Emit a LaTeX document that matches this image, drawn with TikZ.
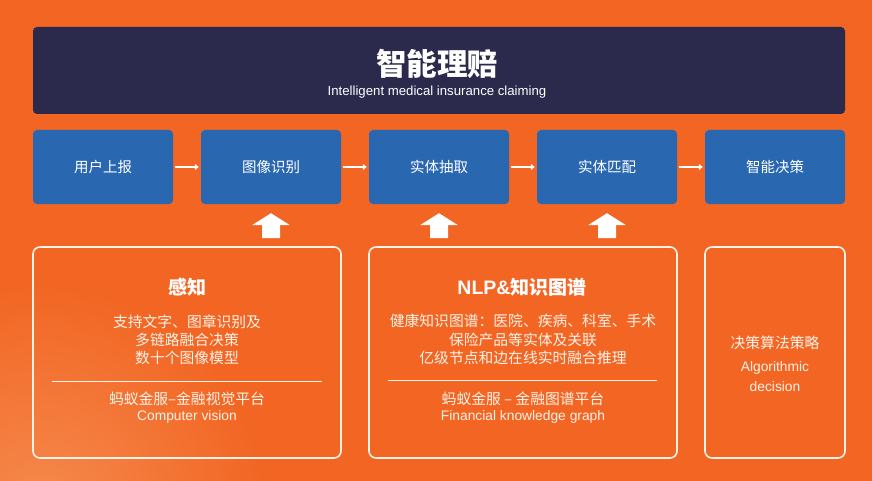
\documentclass[tikz,border=0pt]{standalone}
\usepackage{fontspec}
\setmainfont{Noto Sans CJK SC}
\newfontfamily\latinfont{Liberation Sans}
\usetikzlibrary{arrows.meta,calc}
\definecolor{bgor}{HTML}{F26522}
\definecolor{bglt}{HTML}{F58A4E}
\definecolor{navy}{HTML}{2B2A4D}
\definecolor{bluebox}{HTML}{2A67B1}
\definecolor{cream}{HTML}{FFF2E8}
\tikzset{
  stepbox/.style={fill=bluebox, rounded corners=4pt, minimum width=140pt, minimum height=74pt, inner sep=0pt, text=white, font=\fontsize{14.5}{16}\selectfont},
  panel/.style={draw=cream, line width=1.6pt, rounded corners=7pt, inner sep=0pt},
  body/.style={text=cream, font=\fontsize{14.8}{16}\selectfont, inner sep=0pt},
  latin/.style={text=cream, font=\latinfont\fontsize{13.8}{15}\selectfont, inner sep=0pt},
  head/.style={text=white, font=\fontsize{19}{21}\selectfont\bfseries, inner sep=0pt},
  flow/.style={draw=white, line width=1.8pt, -{Triangle[length=4pt,width=6pt]}},
}
\newcommand{\uparr}[1]{\fill[white] ([yshift=-9pt]#1.south) -- ++(19,12) -- ++(-10,0) -- ++(0,13) -- ++(-18,0) -- ++(0,-13) -- ++(-10,0) -- cycle;}
\begin{document}
\begin{tikzpicture}[x=1pt,y=-1pt]
\useasboundingbox (0,0) rectangle (872,481);
\fill[bgor] (0,0) rectangle (872,481);
\begin{scope}
\clip (0,0) rectangle (872,481);
\shade[inner color=bglt, outer color=bgor] (40,510) circle (230);
\end{scope}
% top banner
\node[fill=navy, rounded corners=4pt, minimum width=812pt, minimum height=87pt, inner sep=0pt] (top) at (439,70.5) {};
\node[text=white, font=\fontsize{30.5}{32}\selectfont\bfseries, inner sep=0pt] (title) at (437,64) {智能理赔};
\node[text=white, font=\latinfont\fontsize{13.2}{14}\selectfont, inner sep=0pt] (sub) at (437,92) {Intelligent medical insurance claiming};
% step boxes
\node[stepbox] (b1) at (103,167) {用户上报};
\node[stepbox] (b2) at (271,167) {图像识别};
\node[stepbox] (b3) at (439,167) {实体抽取};
\node[stepbox] (b4) at (607,167) {实体匹配};
\node[stepbox] (b5) at (775,167) {智能决策};
\draw[flow] ([xshift=2pt]b1.east) -- ([xshift=-2pt]b2.west);
\draw[flow] ([xshift=2pt]b2.east) -- ([xshift=-2pt]b3.west);
\draw[flow] ([xshift=2pt]b3.east) -- ([xshift=-2pt]b4.west);
\draw[flow] ([xshift=2pt]b4.east) -- ([xshift=-2pt]b5.west);
% up arrows
\uparr{b2}
\uparr{b3}
\uparr{b4}
% panels
\node[panel, minimum width=308pt, minimum height=211pt] (p1) at (187,352.5) {};
\node[panel, minimum width=308pt, minimum height=211pt] (p2) at (523,352.5) {};
\node[panel, minimum width=140pt, minimum height=211pt] (p3) at (775,352.5) {};
% panel 1
\node[head] (p1h) at (187,287) {感知};
\node[body] (p1a) at (187,322) {支持文字、图章识别及};
\node[body] (p1b) at (187,340) {多链路融合决策};
\node[body] (p1c) at (187,358) {数十个图像模型};
\draw[cream, line width=0.8pt] (52,381) -- (322,381);
\node[body] (p1d) at (187,399) {蚂蚁金服–金融视觉平台};
\node[latin] (p1e) at (187,417) {Computer vision};
% panel 2
\node[head] (p2h) at (522,287) {{\latinfont\fontsize{19.5}{21}\selectfont\bfseries NLP\&}知识图谱};
\node[body] (p2a) at (523,321) {健康知识图谱：医院、疾病、科室、手术};
\node[body] (p2b) at (523,340) {保险产品等实体及关联};
\node[body] (p2c) at (523,358) {亿级节点和边在线实时融合推理};
\draw[cream, line width=0.8pt] (388,380) -- (657,380);
\node[body] (p2d) at (523,399) {蚂蚁金服 – 金融图谱平台};
\node[latin] (p2e) at (523,417) {Financial knowledge graph};
% panel 3
\node[body] (p3a) at (775,343) {决策算法策略};
\node[latin] (p3b) at (775,368) {Algorithmic};
\node[latin] (p3c) at (775,387) {decision};
\end{tikzpicture}
\end{document}
